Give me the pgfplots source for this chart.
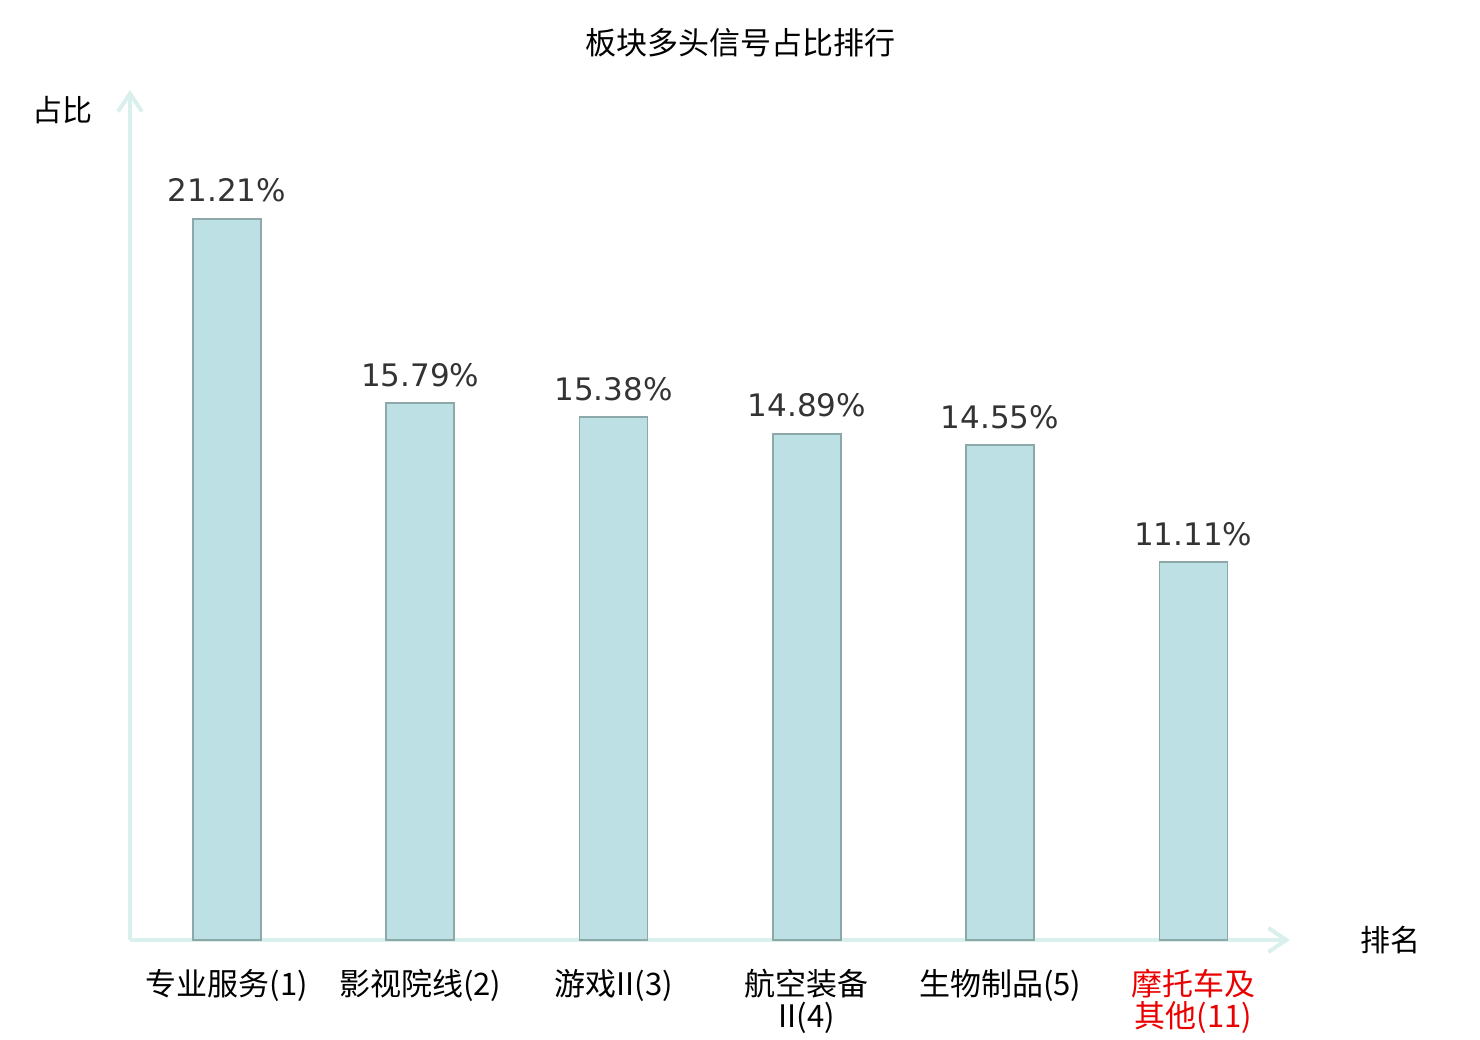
\documentclass[border=0pt]{standalone}
\usepackage{pgfplots}
\pgfplotsset{compat=1.18}
\usepackage{fontspec}
\setmainfont{DejaVu Sans}
\newfontfamily\cjk{Noto Sans CJK SC}
\usetikzlibrary{arrows.meta}
\definecolor{axiscol}{RGB}{218,240,236}
\definecolor{barfill}{RGB}{188,224,227}
\definecolor{barline}{RGB}{140,168,168}
\definecolor{lab}{RGB}{51,51,51}
\definecolor{hl}{RGB}{235,0,0}
\begin{document}
\begin{tikzpicture}
\path[use as bounding box] (0,0) rectangle (740pt,520pt);
\begin{axis}[
  at={(65pt,50pt)}, anchor=south west,
  scale only axis, width=580pt, height=425pt,
  xmin=-0.502, xmax=5.5, ymin=0, ymax=25,
  axis x line=bottom, axis y line=left,
  axis line style={draw=axiscol, line width=2pt, -{Straight Barb[length=9pt,width=12pt,line width=2pt]}},
  ytick=\empty,
  xtick={0,1,2,3,4,5},
  major tick length=0pt,
  xticklabels={
    专业服务(1),
    影视院线(2),
    游戏II(3),
    航空装备\\II(4),
    生物制品(5),
    \textcolor{hl}{摩托车及}\\\textcolor{hl}{其他(11)}},
  xticklabel style={font=\cjk\fontsize{15.5}{16}\selectfont, align=center, anchor=north, yshift=-11pt, text=black},
  title={板块多头信号占比排行},
  title style={font=\cjk\fontsize{15.5}{18}\selectfont, at={(rel axis cs:0.526,1.042)}, anchor=center},
  xlabel={排名},
  xlabel style={font=\cjk\fontsize{15}{18}\selectfont, at={(rel axis cs:1.087,0)}, anchor=center},
  ylabel={占比},
  ylabel style={font=\cjk\fontsize{15}{18}\selectfont, rotate=-90, at={(rel axis cs:-0.0578,0.976)}, anchor=center},
  clip=false,
]
\addplot[ybar, bar width=34pt, fill=barfill, draw=barline, line width=0.8pt,
  point meta=explicit symbolic,
  nodes near coords={\pgfplotspointmeta\%},
  every node near coord/.append style={font=\fontsize{15.5}{18}\selectfont, text=lab, yshift=4.5pt}]
coordinates {
  (0,21.21) [21.21]
  (1,15.79) [15.79]
  (2,15.38) [15.38]
  (3,14.89) [14.89]
  (4,14.55) [14.55]
  (5,11.11) [11.11]
};
\end{axis}
\end{tikzpicture}
\end{document}
